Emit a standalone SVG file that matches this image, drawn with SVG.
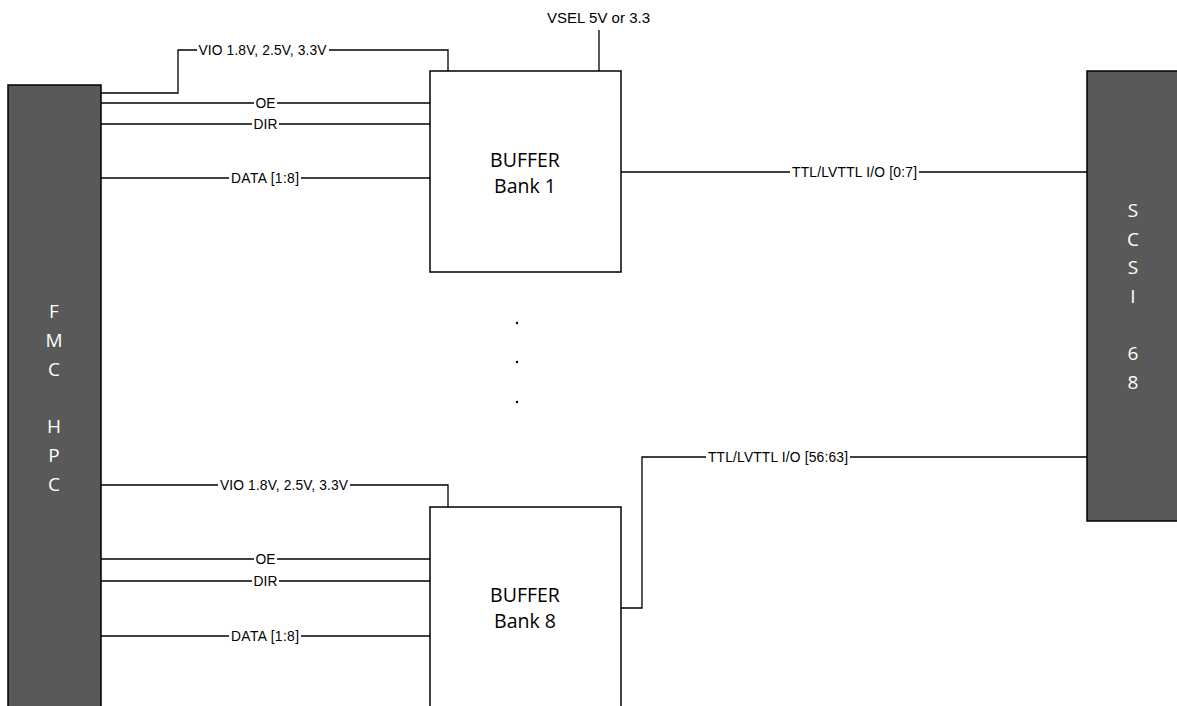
<svg xmlns="http://www.w3.org/2000/svg" width="1177" height="706" viewBox="0 0 1177 706">
<style>
.w{stroke:#000;stroke-width:1.3;fill:none}
.lbl{font-family:"Liberation Sans",Arial,sans-serif;font-size:13.8px;fill:#000;text-anchor:middle}
.bg{fill:#fff}
.dark{fill:#595959;stroke:#000;stroke-width:1.5}
.box{fill:#fff;stroke:#000;stroke-width:1.5}
.wt{font-family:"Open Sans","Liberation Sans",sans-serif;font-size:19px;fill:#fff;text-anchor:middle}
.bt{font-family:"Open Sans","Liberation Sans",sans-serif;font-size:19.5px;fill:#000;text-anchor:middle}
</style>
<rect width="1177" height="706" fill="#fff"/>
<g id="connectors">
<polyline class="w" points="101,93 178,93 178,50 448,50 448,71"/>
<line class="w" x1="101" y1="103" x2="430" y2="103"/>
<line class="w" x1="101" y1="124" x2="430" y2="124"/>
<line class="w" x1="101" y1="178" x2="430" y2="178"/>
<line class="w" x1="599" y1="30" x2="599" y2="71"/>
<line class="w" x1="621" y1="172" x2="1087" y2="172"/>
<polyline class="w" points="101,485 448,485 448,507"/>
<line class="w" x1="101" y1="559" x2="430" y2="559"/>
<line class="w" x1="101" y1="581" x2="430" y2="581"/>
<line class="w" x1="101" y1="636" x2="430" y2="636"/>
<polyline class="w" points="621,608 642,608 642,457 1087,457"/>
<rect class="bg" x="197" y="43" width="132" height="14"/>
<text class="lbl" x="262.5" y="55" textLength="128">VIO 1.8V, 2.5V, 3.3V</text>
<rect class="bg" x="254" y="96" width="23" height="14"/>
<text class="lbl" x="265.5" y="108">OE</text>
<rect class="bg" x="252" y="117" width="27" height="14"/>
<text class="lbl" x="265.5" y="129">DIR</text>
<rect class="bg" x="229" y="171" width="72" height="14"/>
<text class="lbl" x="265" y="183" textLength="68">DATA [1:8]</text>
<rect class="bg" x="790" y="165" width="129" height="14"/>
<text class="lbl" x="854.5" y="177" textLength="125">TTL/LVTTL I/O [0:7]</text>
<rect class="bg" x="218" y="478" width="132" height="14"/>
<text class="lbl" x="284" y="490" textLength="128">VIO 1.8V, 2.5V, 3.3V</text>
<rect class="bg" x="254" y="552" width="23" height="14"/>
<text class="lbl" x="265.5" y="564">OE</text>
<rect class="bg" x="252" y="574" width="27" height="14"/>
<text class="lbl" x="265.5" y="586">DIR</text>
<rect class="bg" x="229" y="629" width="72" height="14"/>
<text class="lbl" x="265" y="641" textLength="68">DATA [1:8]</text>
<rect class="bg" x="706" y="450" width="144" height="14"/>
<text class="lbl" x="778" y="462" textLength="140">TTL/LVTTL I/O [56:63]</text>
</g>
<text x="598.5" y="23" textLength="103" style="font-family:'Liberation Sans',Arial,sans-serif;font-size:15px;text-anchor:middle">VSEL 5V or 3.3</text>
<g id="fmc">
<rect class="dark" x="8" y="85" width="93" height="630"/>
<text class="wt"><tspan x="54" y="318">F</tspan><tspan x="54" y="347">M</tspan><tspan x="54" y="376">C</tspan><tspan x="54" y="433">H</tspan><tspan x="54" y="462">P</tspan><tspan x="54" y="491">C</tspan></text>
</g>
<g id="buffer1">
<rect class="box" x="430" y="71" width="191" height="201"/>
<text class="bt" x="525" y="167">BUFFER</text>
<text class="bt" x="525" y="193">Bank 1</text>
</g>
<g id="buffer8">
<rect class="box" x="430" y="507" width="191" height="220"/>
<text class="bt" x="525" y="602">BUFFER</text>
<text class="bt" x="525" y="628">Bank 8</text>
</g>
<g id="scsi">
<rect class="dark" x="1087" y="71" width="100" height="450"/>
<text class="wt"><tspan x="1133" y="217">S</tspan><tspan x="1133" y="246">C</tspan><tspan x="1133" y="274">S</tspan><tspan x="1133" y="303">I</tspan><tspan x="1133" y="360">6</tspan><tspan x="1133" y="389">8</tspan></text>
</g>
<g id="dots">
<circle cx="517" cy="323" r="1.2"/>
<circle cx="517" cy="362" r="1.2"/>
<circle cx="517" cy="402" r="1.2"/>
</g>
</svg>
